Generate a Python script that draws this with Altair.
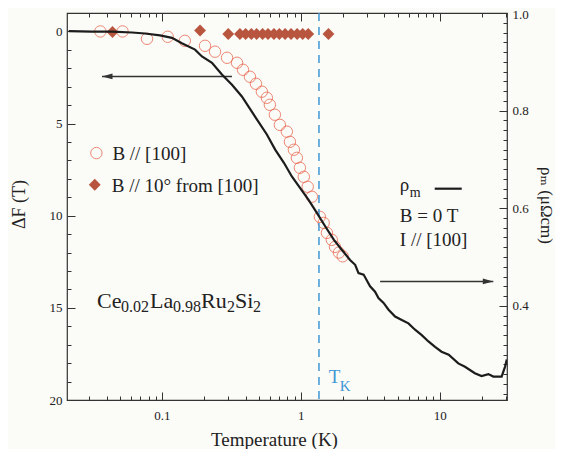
import altair as alt
import pandas as pd

# ---------------- data ----------------
circle_T = [0.036, 0.052, 0.078, 0.110, 0.146, 0.204, 0.241, 0.294, 0.347, 0.383,
            0.430, 0.475, 0.524, 0.569, 0.598, 0.650, 0.706, 0.793, 0.834, 0.891,
            0.936, 0.984, 1.05, 1.12, 1.20, 1.37, 1.46, 1.54, 1.67, 1.76, 1.88, 2.00]
circle_dF = [0.0, 0.0, 0.40, 0.29, 0.51, 0.78, 1.10, 1.43, 1.70, 2.08,
             2.46, 2.84, 3.27, 3.60, 3.98, 4.52, 5.07, 5.44, 5.99, 6.42,
             6.86, 7.40, 7.89, 8.43, 8.97, 10.06, 10.39, 10.93, 11.31, 11.69, 12.0, 12.2]

diamond_T = [0.044, 0.188, 0.30, 0.364, 0.40, 0.44, 0.48, 0.53, 0.58, 0.64,
             0.70, 0.77, 0.85, 0.94, 1.03, 1.13, 1.58]
diamond_dF = [0.03, -0.05, 0.14, 0.14, 0.14, 0.14, 0.14, 0.14, 0.14, 0.14,
              0.14, 0.14, 0.14, 0.14, 0.14, 0.14, 0.14]

rho_T = [0.0213, 0.0313, 0.0437, 0.0608, 0.0755, 0.0968, 0.118, 0.139, 0.173, 0.194,
         0.229, 0.270, 0.319, 0.376, 0.482, 0.569, 0.653, 0.755, 0.861, 0.983,
         1.136, 1.30, 1.496, 1.73, 1.97, 2.26, 2.46, 2.60, 2.83, 3.15,
         3.42, 3.62, 3.94, 4.28, 4.77, 5.33, 5.95, 6.64, 7.42, 8.29,
         9.25, 10.3, 11.6, 13.6, 15.2, 17.9, 20.0, 22.4, 24.3, 27.9,
         29.5, 30.4]
rho_m = [0.963, 0.962, 0.962, 0.960, 0.958, 0.954, 0.949, 0.938, 0.925, 0.911,
         0.898, 0.874, 0.853, 0.829, 0.782, 0.751, 0.720, 0.693, 0.665, 0.642,
         0.617, 0.591, 0.563, 0.535, 0.515, 0.494, 0.484, 0.467, 0.464, 0.440,
         0.429, 0.416, 0.406, 0.392, 0.378, 0.371, 0.364, 0.351, 0.340, 0.327,
         0.316, 0.306, 0.300, 0.282, 0.275, 0.262, 0.256, 0.260, 0.255, 0.255,
         0.275, 0.290]

T_K = 1.35

x_major = [0.1, 1, 10]
x_minor = [0.03, 0.04, 0.05, 0.06, 0.07, 0.08, 0.09,
           0.2, 0.3, 0.4, 0.5, 0.6, 0.7, 0.8, 0.9,
           2, 3, 4, 5, 6, 7, 8, 9, 20, 30]
dF_major = [0, 5, 10, 15, 20]
dF_minor = [1, 2, 3, 4, 6, 7, 8, 9, 11, 12, 13, 14, 16, 17, 18, 19]
rho_major = [0.4, 0.6, 0.8, 1.0]
rho_minor = [0.22, 0.24, 0.26, 0.28, 0.30, 0.32, 0.34, 0.36, 0.38,
             0.42, 0.44, 0.46, 0.48, 0.50, 0.52, 0.54, 0.56, 0.58,
             0.62, 0.64, 0.66, 0.68, 0.70, 0.72, 0.74, 0.76, 0.78,
             0.82, 0.84, 0.86, 0.88, 0.90, 0.92, 0.94, 0.96, 0.98]

left_arrow = {"T": 0.319, "T2": 0.037, "dF": 2.44}
right_arrow = {"T": 3.72, "T2": 24.3, "rho": 0.450}

# ---------------- styles ----------------
SERIF = "Liberation Serif, Times New Roman, DejaVu Serif, serif"
INK = "#222222"
AX = "#333333"
RED = "#e8583f"
BROWN = "#b8553f"
BLUE = "#3f97d6"

xs = alt.Scale(type="log", domain=[0.0207, 30.5], nice=False)
ysl = alt.Scale(domain=[-1.0, 20], reverse=True, nice=False, zero=False)
ysr = alt.Scale(domain=[0.207, 1.0], nice=False, zero=False)

MAJ, MIN = 8, 4   # tick lengths; axes are pulled inside the frame by the same amount

lab = dict(labelFont=SERIF, labelFontSize=13, labelColor=INK, labelOverlap=False)
ttl = dict(titleFont=SERIF, titleFontWeight="normal", titleColor=INK,
           titleBaseline="alphabetic", titleAlign="center")
base = dict(grid=False, domain=False, tickColor=AX, tickWidth=1)

ax_bottom_major = alt.Axis(orient="bottom", values=x_major, tickSize=MAJ, offset=-MAJ,
                           format="~g", labelPadding=9, labelFlush=False,
                           title="Temperature (K)", titleFontSize=19, titleX=207, titleY=53,
                           **lab, **ttl, **base)
ax_bottom_minor = alt.Axis(orient="bottom", values=x_minor, tickSize=MIN, offset=-MIN,
                           labels=False, title=None, **base)
ax_top_major = alt.Axis(orient="top", values=x_major, tickSize=MAJ, offset=-MAJ,
                        labels=False, title=None, **base)
ax_top_minor = alt.Axis(orient="top", values=x_minor, tickSize=MIN, offset=-MIN,
                        labels=False, title=None, **base)
ax_left_major = alt.Axis(orient="left", values=dF_major, tickSize=MAJ, offset=-MAJ,
                         format="d", labelPadding=5, labelFlush=False, title="ΔF (T)",
                         titleFontSize=18, titleAngle=270, titleX=-51, titleY=191,
                         **lab, **ttl, **base)
ax_left_minor = alt.Axis(orient="left", values=dF_minor, tickSize=MIN, offset=-MIN,
                         labels=False, title=None, **base)
ax_right_major = alt.Axis(orient="right", values=rho_major, tickSize=MAJ, offset=-MAJ,
                          format=".1f", labelPadding=5, labelFlush=True, labelFlushOffset=5,
                          title="ρₘ (μΩcm)", titleFontSize=17, titleAngle=90, titleX=41,
                          titleY=192, **lab, **ttl, **base)
ax_right_minor = alt.Axis(orient="right", values=rho_minor, tickSize=MIN, offset=-MIN,
                          labels=False, title=None, **base)


def XL(field="T", axis=None):
    return alt.X(f"{field}:Q", scale=xs, axis=axis)


def YL(field="dF", axis=None):
    return alt.Y(f"{field}:Q", scale=ysl, axis=axis)


def YR(field="rho", axis=None):
    return alt.Y(f"{field}:Q", scale=ysr, axis=axis)


# ---------------- ΔF marks ----------------
circ_df = pd.DataFrame({"T": circle_T, "dF": circle_dF})
dia_df = pd.DataFrame({"T": diamond_T, "dF": diamond_dF})

circles = alt.Chart(circ_df).mark_point(
    shape="circle", filled=False, size=130, stroke=RED, strokeWidth=1, clip=True
).encode(x=XL(axis=ax_bottom_major), y=YL(axis=ax_left_major))

diamonds = alt.Chart(dia_df).mark_point(
    shape="diamond", filled=True, size=140, color=BROWN, opacity=1, clip=True
).encode(x=XL(axis=ax_bottom_minor), y=YL(axis=ax_left_minor))

tk_rule = alt.Chart(pd.DataFrame({"T": [T_K]})).mark_rule(
    color=BLUE, strokeDash=[8, 6], strokeWidth=1.5
).encode(x=XL())

la_df = pd.DataFrame([left_arrow])
la_line = alt.Chart(la_df).mark_rule(color=AX, strokeWidth=1.5).encode(
    x=XL(), x2="T2:Q", y=YL())
la_head = alt.Chart(la_df).mark_point(
    shape="M0,0L2,-0.55L2,0.55Z", filled=True, size=110, color=AX, opacity=1
).encode(x=XL("T2"), y=YL())

leg_c = alt.Chart(pd.DataFrame({"T": [0.0337], "dF": [6.60], "t": ["B // [100]"]}))
leg_circle = leg_c.mark_point(shape="circle", filled=False, size=130, stroke=RED,
                              strokeWidth=1).encode(x=XL(), y=YL())
leg_circle_t = leg_c.mark_text(align="left", baseline="middle", dx=16, dy=1,
                               font=SERIF, fontSize=19, color=INK).encode(
    x=XL(), y=YL(), text="t:N")
leg_d = alt.Chart(pd.DataFrame({"T": [0.0328], "dF": [8.32], "t": ["B // 10° from [100]"]}))
leg_diamond = leg_d.mark_point(shape="diamond", filled=True, size=140, color=BROWN,
                               opacity=1).encode(x=XL(), y=YL())
leg_diamond_t = leg_d.mark_text(align="left", baseline="middle", dx=17, dy=1,
                                font=SERIF, fontSize=19, color=INK).encode(
    x=XL(), y=YL(), text="t:N")

formula_parts = ["Ce", "0.02", "La", "0.98", "Ru", "2", "Si", "2"]
formula_dx = [0, 24, 53, 76, 104, 130, 138, 156]
formula_sub = [False, True, False, True, False, True, False, True]
formula_anchor = pd.DataFrame({"T": [0.0341], "dF": [15.0]})
formula_layers = []
for part, dx, sub in zip(formula_parts, formula_dx, formula_sub):
    formula_layers.append(
        alt.Chart(formula_anchor).mark_text(
            text=part, align="left", baseline="alphabetic", dx=dx,
            dy=4 if sub else 0, font=SERIF, fontSize=16 if sub else 22, color=INK
        ).encode(x=XL(), y=YL()))

tk_anchor = pd.DataFrame({"T": [1.59], "dF": [19.07]})
tk_T = alt.Chart(tk_anchor).mark_text(
    text="T", align="left", baseline="alphabetic", font=SERIF, fontSize=19, color=BLUE
).encode(x=XL(), y=YL())
tk_K = alt.Chart(tk_anchor).mark_text(
    text="K", align="left", baseline="alphabetic", dx=11, dy=8, font=SERIF,
    fontSize=15, color=BLUE
).encode(x=XL(), y=YL())

# ---------------- rho marks ----------------
rho_df = pd.DataFrame({"T": rho_T, "rho": rho_m, "i": range(len(rho_T))})
rho_line = alt.Chart(rho_df).mark_line(color="#1c1c1c", strokeWidth=2.2, clip=True).encode(
    x=XL(axis=ax_top_major), y=YR(axis=ax_right_major), order="i:Q")

ra_df = pd.DataFrame([right_arrow])
ra_line = alt.Chart(ra_df).mark_rule(color=AX, strokeWidth=1.5).encode(
    x=XL(axis=ax_top_minor), x2="T2:Q", y=YR(axis=ax_right_minor))
ra_head = alt.Chart(ra_df).mark_point(
    shape="M0,0L-2,-0.55L-2,0.55Z", filled=True, size=110, color=AX, opacity=1
).encode(x=XL("T2"), y=YR())

rleg = pd.DataFrame({"T": [5.16], "rho": [0.636]})
rleg_rho = alt.Chart(rleg).mark_text(
    text="ρ", align="left", baseline="alphabetic", font=SERIF, fontSize=19, color=INK
).encode(x=XL(), y=YR())
rleg_m = alt.Chart(rleg).mark_text(
    text="m", align="left", baseline="alphabetic", dx=10, dy=6, font=SERIF,
    fontSize=14, color=INK
).encode(x=XL(), y=YR())
rleg_sample = alt.Chart(pd.DataFrame({"T": [9.2], "T2": [14.4], "rho": [0.640]})).mark_rule(
    color="#1c1c1c", strokeWidth=2.2
).encode(x=XL(), x2="T2:Q", y=YR())
rleg_text = alt.Chart(pd.DataFrame({"T": [5.16, 5.16], "rho": [0.572, 0.522],
                                    "t": ["B = 0 T", "I // [100]"]})).mark_text(
    align="left", baseline="alphabetic", font=SERIF, fontSize=19, color=INK
).encode(x=XL(), y=YR(), text="t:N")

chart = alt.layer(
    circles, diamonds, tk_rule, la_line, la_head,
    leg_circle, leg_circle_t, leg_diamond, leg_diamond_t,
    *formula_layers, tk_T, tk_K,
    rho_line, ra_line, ra_head, rleg_rho, rleg_m, rleg_sample, rleg_text
).resolve_scale(
    x="independent", y="independent"
).properties(
    width=440, height=387,
    autosize=alt.AutoSizeParams(type="none"),
    padding={"left": 59, "top": 5, "right": 48, "bottom": 49},
    background="#fbfbf7",
).configure_view(stroke=AX, strokeWidth=1.2)

chart.save("out.html", embed_options={"renderer": "svg", "actions": False})
